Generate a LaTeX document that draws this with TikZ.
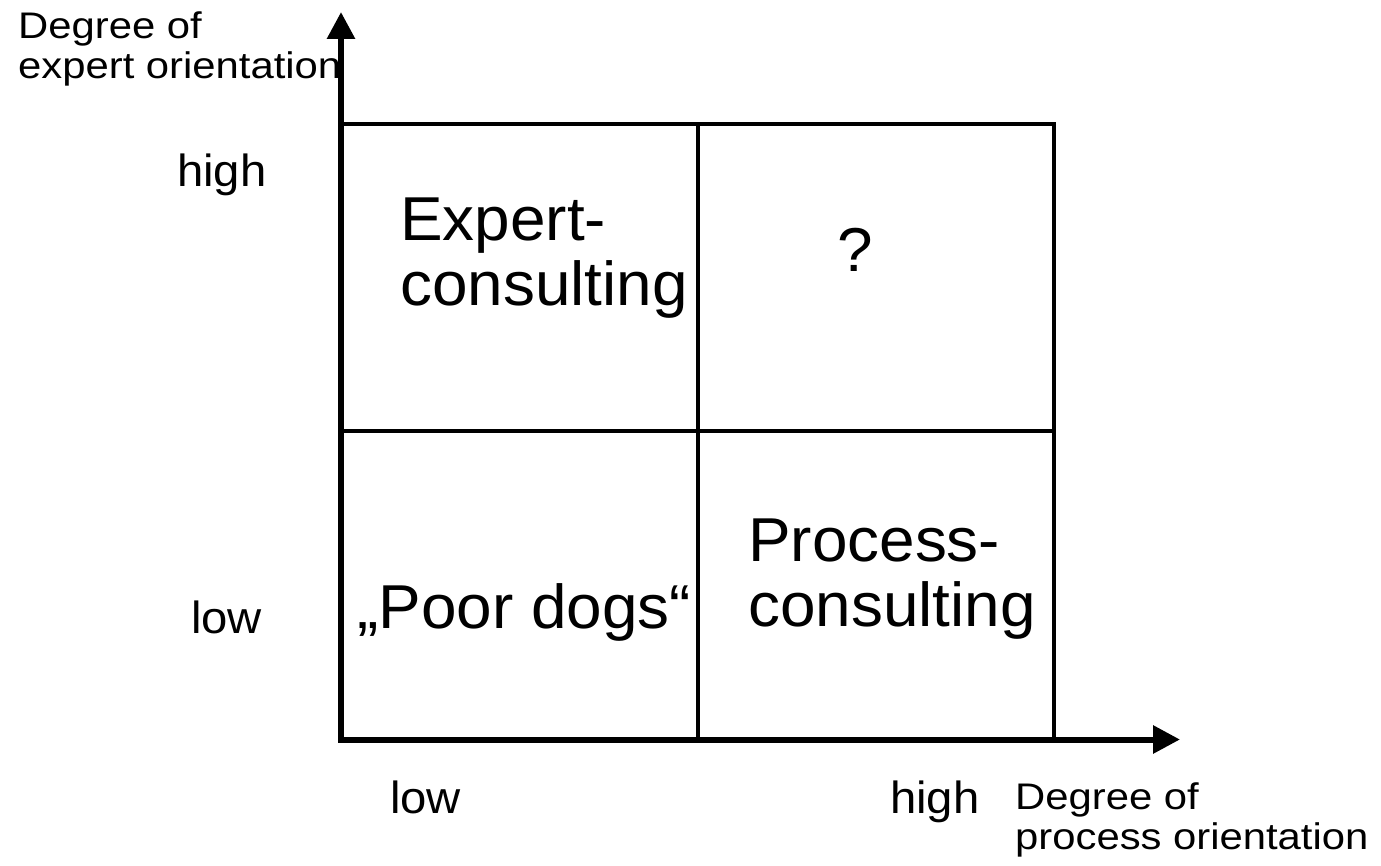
\documentclass[tikz,border=0pt]{standalone}
\usepackage{fontspec}
\setmainfont{Liberation Sans}
% slightly widened faces for the axis texts and the cell titles
\newfontfamily\capfont[FakeStretch=1.13]{Liberation Sans}
\newfontfamily\scalefont[FakeStretch=1.05]{Liberation Sans}
\newfontfamily\cellfont[FakeStretch=1.03]{Liberation Sans}
\usetikzlibrary{arrows.meta}

\begin{document}
\begin{tikzpicture}[x=1pt,y=-1pt,
  axisline/.style={line width=6pt,-{Triangle[length=27pt,width=27pt]}},
  gridline/.style={line width=4pt},
  axcap/.style={inner sep=0pt,anchor=north west,align=left,
    font=\capfont\fontsize{37}{40}\selectfont},
  lbl/.style={inner sep=0pt,anchor=north west,align=left,
    font=\scalefont\fontsize{45}{50}\selectfont},
  cell/.style={inner sep=0pt,anchor=north west,align=left,
    font=\cellfont\fontsize{62}{65}\selectfont}]
\useasboundingbox (0,0) rectangle (1381,866);

% axis captions and scale labels
\node[axcap] (ycap)  at (18,12)    {Degree of\\expert orientation};
\node[lbl]   (yhigh) at (177,154)  {high};
\node[lbl]   (ylow)  at (191,601)  {low};
\node[lbl]   (xlow)  at (390,781)  {low};
\node[lbl]   (xhigh) at (890,781)  {high};
\node[axcap] (xcap)  at (1015,783) {Degree of\\process orientation};

% cell titles
\node[cell] (expert)  at (400,198) {Expert-\\consulting};
\node[cell] (unknown) at (837,228) {?};
\node[cell] (poor)    at (357,583) {„Poor dogs“};
\node[cell] (process) at (748,519) {Process-\\consulting};

% the 2x2 grid
\coordinate (tl) at (341,124.5);
\coordinate (br) at (1053.5,739.5);
\coordinate (midx) at (698,0);
\coordinate (midy) at (0,431);
\draw[gridline] (tl) -- (br |- tl) -- (br);
\draw[gridline] (midx |- tl) -- (midx |- br);
\draw[gridline] (tl |- midy) -- (br |- midy);

% axes
\coordinate (ybase) at (341,742.5);
\coordinate (ytip)  at (341,12);
\coordinate (xbase) at (338,739.5);
\coordinate (xtip)  at (1180,739.5);
\draw[axisline] (ybase) -- (ytip);
\draw[axisline] (xbase) -- (xtip);
\end{tikzpicture}
\end{document}
